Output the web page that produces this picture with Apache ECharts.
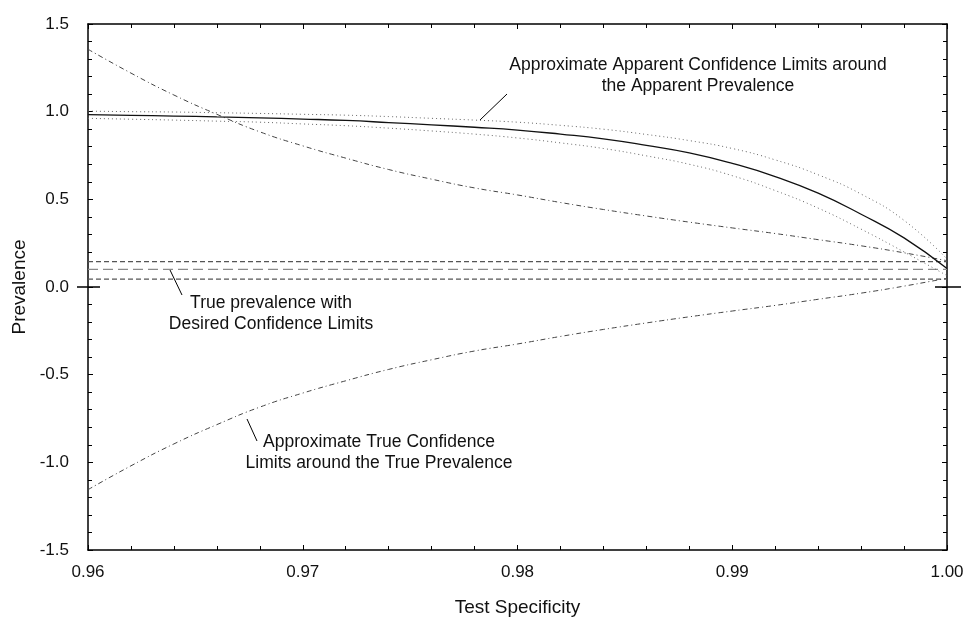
<!DOCTYPE html>
<html>
<head>
<meta charset="utf-8">
<script src="https://cdn.jsdelivr.net/npm/echarts@6/dist/echarts.min.js"></script>
<style>
  html, body { margin: 0; padding: 0; background: #fff; }
  #chart { width: 968px; height: 620px; }
</style>
</head>
<body>
<div id="chart"></div>
<script>
// prevalence vs test specificity

var specificity = [0.960, 0.962, 0.964, 0.966, 0.968, 0.970, 0.972, 0.974, 0.976, 0.978,
                   0.980, 0.982, 0.984, 0.986, 0.988, 0.990, 0.992, 0.994, 0.996, 0.998, 1.000];

// apparent prevalence (solid)
var apparent = [0.983, 0.979, 0.975, 0.970, 0.965, 0.958, 0.950, 0.938, 0.925, 0.911,
                0.895, 0.872, 0.845, 0.808, 0.765, 0.705, 0.630, 0.535, 0.415, 0.280, 0.105];
// approximate apparent confidence limits (dotted)
var apparentUpper = [1.003, 1.000, 0.998, 0.994, 0.990, 0.985, 0.980, 0.972, 0.962, 0.952,
                     0.940, 0.922, 0.900, 0.870, 0.835, 0.790, 0.725, 0.640, 0.530, 0.380, 0.160];
var apparentLower = [0.962, 0.957, 0.952, 0.946, 0.940, 0.930, 0.920, 0.906, 0.890, 0.872,
                     0.850, 0.822, 0.790, 0.748, 0.700, 0.635, 0.550, 0.450, 0.330, 0.200, 0.065];
// approximate true confidence limits (dash-dot)
var trueUpper = [1.356, 1.220, 1.095, 0.985, 0.885, 0.805, 0.735, 0.670, 0.615, 0.565,
                 0.525, 0.482, 0.442, 0.405, 0.370, 0.337, 0.305, 0.270, 0.235, 0.195, 0.150];
var trueLower = [-1.156, -1.020, -0.895, -0.785, -0.685, -0.605, -0.535, -0.470, -0.415, -0.365,
                 -0.325, -0.282, -0.242, -0.205, -0.170, -0.137, -0.105, -0.070, -0.035, 0.005, 0.050];

// true prevalence and desired limits (horizontal)
var truePrevalence = 0.10;
var desiredUpper = 0.145;
var desiredLower = 0.045;

var xTicks = [0.96, 0.97, 0.98, 0.99, 1.00];
var yTicks = [-1.5, -1.0, -0.5, 0.0, 0.5, 1.0, 1.5];

function pairs(ys) {
    return specificity.map(function (x, i) { return [x, ys[i]]; });
}
function flat(v) {
    return [[xTicks[0], v], [xTicks[xTicks.length - 1], v]];
}

var dom = document.getElementById('chart');
var myChart = echarts.init(dom);

var fontFam = 'Liberation Sans, Arial, sans-serif';
var axisCommon = {
    type: 'value',
    axisLine: { show: true, onZero: false, lineStyle: { color: '#000', width: 1.5 } },
    splitLine: { show: false }
};

function yAxisBase(pos, extra) {
    return Object.assign({}, axisCommon, {
        position: pos,
        min: yTicks[0],
        max: yTicks[yTicks.length - 1],
        interval: 0.5
    }, extra);
}

var tickStyle = { inside: true, length: 5, lineStyle: { color: '#000' } };
var minorStyle = { show: true, splitNumber: 5, length: 4, lineStyle: { color: '#000' } };

var option = {
    animation: false,
    grid: { left: 88, right: 21, top: 24, bottom: 70, outerBoundsMode: 'none', containLabel: false },
    xAxis: [
        Object.assign({}, axisCommon, {
            position: 'bottom',
            min: xTicks[0], max: xTicks[xTicks.length - 1], interval: 0.01,
            name: 'Test Specificity',
            nameLocation: 'middle',
            nameGap: 48,
            nameTextStyle: { fontFamily: fontFam, fontSize: 19, color: '#111' },
            axisTick: tickStyle,
            minorTick: minorStyle,
            axisLabel: {
                margin: 14, fontFamily: fontFam, fontSize: 17, color: '#111',
                formatter: function (v) { return v.toFixed(2); }
            }
        }),
        Object.assign({}, axisCommon, {
            position: 'top',
            min: xTicks[0], max: xTicks[xTicks.length - 1], interval: 0.01,
            axisTick: tickStyle,
            minorTick: minorStyle,
            axisLabel: { show: false }
        })
    ],
    yAxis: [
        yAxisBase('left', {
            name: 'Prevalence',
            nameLocation: 'middle',
            nameGap: 59,
            nameTextStyle: { fontFamily: fontFam, fontSize: 19, color: '#111' },
            axisTick: tickStyle,
            minorTick: minorStyle,
            axisLabel: {
                margin: 19, fontFamily: fontFam, fontSize: 17, color: '#111',
                formatter: function (v) { return v.toFixed(1); }
            }
        }),
        yAxisBase('right', {
            axisTick: tickStyle,
            minorTick: minorStyle,
            axisLabel: { show: false }
        }),
        // long cross marks at 0.0 on both sides
        yAxisBase('left', {
            axisLine: { show: false },
            axisTick: { show: true, customValues: [0], inside: false, length: 11, lineStyle: { color: '#000', width: 1.5 } },
            axisLabel: { show: false }
        }),
        yAxisBase('left', {
            axisLine: { show: false },
            axisTick: { show: true, customValues: [0], inside: true, length: 12, lineStyle: { color: '#000', width: 1.5 } },
            axisLabel: { show: false }
        }),
        yAxisBase('right', {
            axisLine: { show: false },
            axisTick: { show: true, customValues: [0], inside: false, length: 14, lineStyle: { color: '#000', width: 1.5 } },
            axisLabel: { show: false }
        }),
        yAxisBase('right', {
            axisLine: { show: false },
            axisTick: { show: true, customValues: [0], inside: true, length: 12, lineStyle: { color: '#000', width: 1.5 } },
            axisLabel: { show: false }
        })
    ],
    series: [
        {
            name: 'Desired upper', type: 'line', data: flat(desiredUpper), symbol: 'none',
            lineStyle: { color: '#555', width: 1.2, type: [5, 3] }
        },
        {
            name: 'True prevalence', type: 'line', data: flat(truePrevalence), symbol: 'none',
            lineStyle: { color: '#8a8a8a', width: 1.3, type: [10, 5] }
        },
        {
            name: 'Desired lower', type: 'line', data: flat(desiredLower), symbol: 'none',
            lineStyle: { color: '#555', width: 1.2, type: [5, 3] }
        },
        {
            name: 'True upper', type: 'line', data: pairs(trueUpper), symbol: 'none', smooth: true,
            lineStyle: { color: '#444', width: 1, type: [5, 3, 1, 3] }
        },
        {
            name: 'True lower', type: 'line', data: pairs(trueLower), symbol: 'none', smooth: true,
            lineStyle: { color: '#444', width: 1, type: [5, 3, 1, 3] }
        },
        {
            name: 'Apparent upper', type: 'line', data: pairs(apparentUpper), symbol: 'none', smooth: true,
            lineStyle: { color: '#666', width: 1, type: [1, 3] }
        },
        {
            name: 'Apparent lower', type: 'line', data: pairs(apparentLower), symbol: 'none', smooth: true,
            lineStyle: { color: '#666', width: 1, type: [1, 3] }
        },
        {
            name: 'Apparent prevalence', type: 'line', data: pairs(apparent), symbol: 'none', smooth: true,
            lineStyle: { color: '#111', width: 1.3 }
        }
    ],
    graphic: [
        { type: 'line', shape: { x1: 480, y1: 120, x2: 507, y2: 94 }, style: { stroke: '#000', lineWidth: 1 } },
        {
            type: 'text', x: 698, y: 76,
            style: {
                text: 'Approximate Apparent Confidence Limits around\nthe Apparent Prevalence',
                font: '17.5px ' + fontFam, fill: '#111', align: 'center', verticalAlign: 'middle', lineHeight: 21
            }
        },
        { type: 'line', shape: { x1: 170, y1: 270, x2: 182, y2: 295 }, style: { stroke: '#000', lineWidth: 1 } },
        {
            type: 'text', x: 271, y: 314,
            style: {
                text: 'True prevalence with\nDesired Confidence Limits',
                font: '17.5px ' + fontFam, fill: '#111', align: 'center', verticalAlign: 'middle', lineHeight: 21
            }
        },
        { type: 'line', shape: { x1: 247, y1: 419, x2: 257, y2: 441 }, style: { stroke: '#000', lineWidth: 1 } },
        {
            type: 'text', x: 379, y: 453,
            style: {
                text: 'Approximate True Confidence\nLimits around the True Prevalence',
                font: '17.5px ' + fontFam, fill: '#111', align: 'center', verticalAlign: 'middle', lineHeight: 21
            }
        }
    ]
};

if (option && typeof option === 'object') {
    myChart.setOption(option);
}
</script>
</body>
</html>
